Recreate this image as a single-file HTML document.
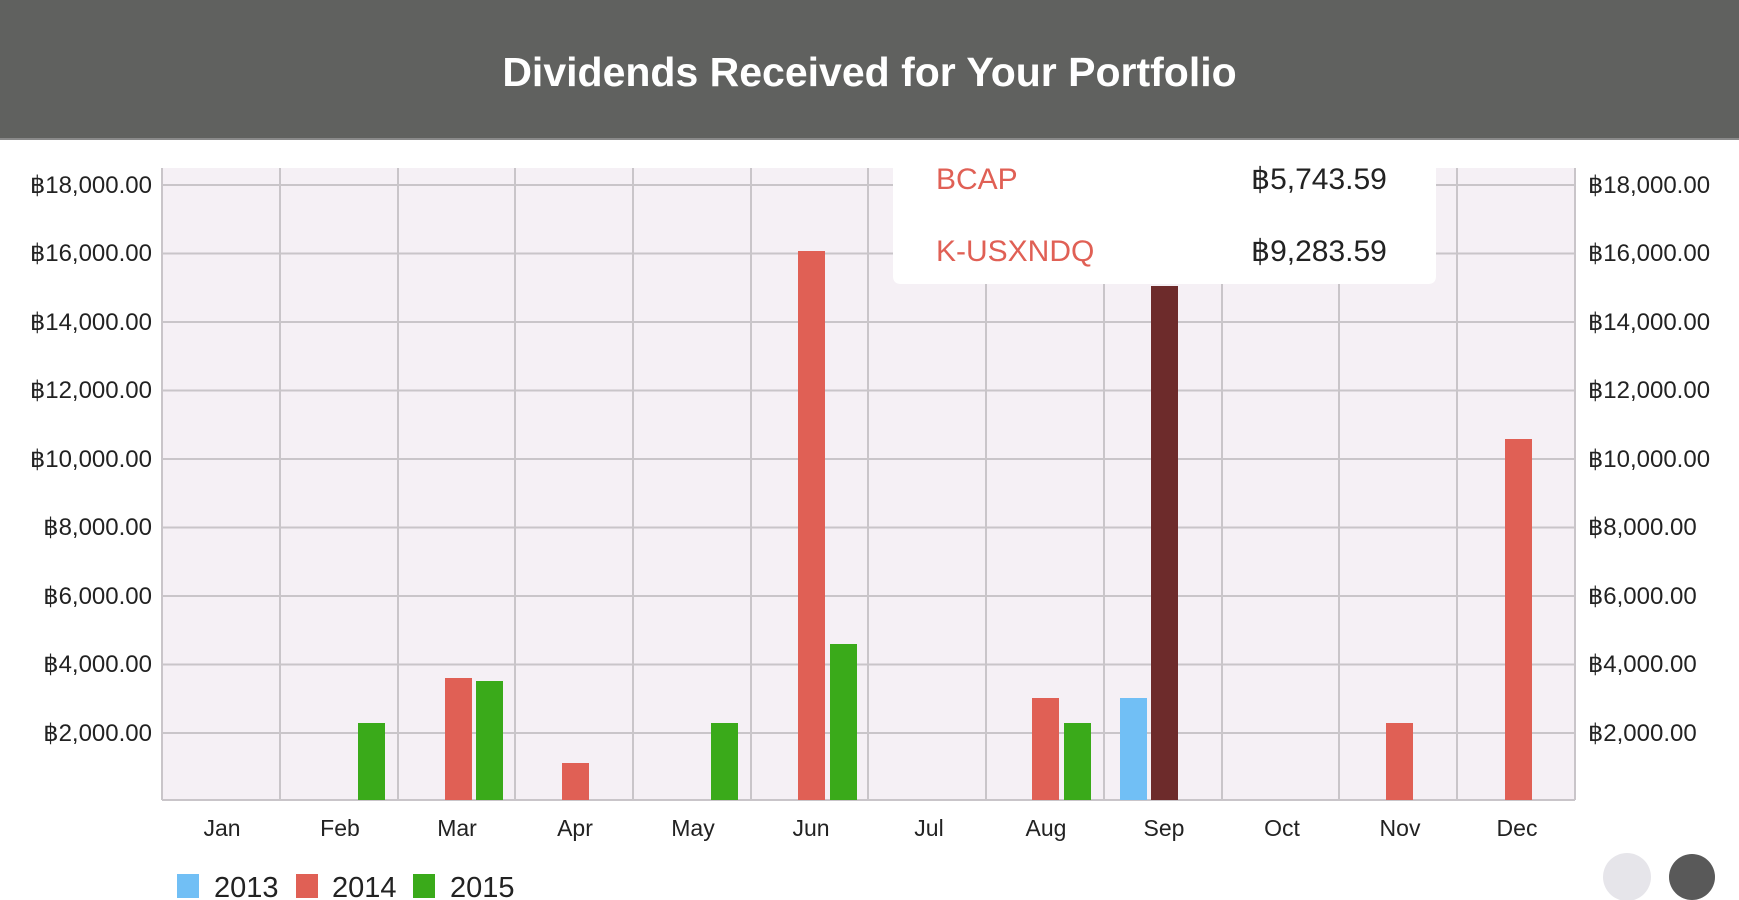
<!DOCTYPE html>
<html><head><meta charset="utf-8"><style>
body{margin:0;width:1739px;height:900px;background:#fff;overflow:hidden;font-family:"Liberation Sans",sans-serif;position:relative}
.hdr{position:absolute;left:0;top:0;width:1739px;height:138px;background:#60615f;border-bottom:2px solid #8a8a8a;color:#fff;font-weight:bold;font-size:41px;text-align:center;line-height:144px}
</style></head><body>
<div class="hdr">Dividends Received for Your Portfolio</div>
<svg width="1739" height="900" style="position:absolute;left:0;top:0">
<rect x="162" y="168" width="1413" height="632" fill="#f5f0f5"/>
<g stroke="#c9c5c9" stroke-width="2">
<line x1="162" y1="185" x2="1575" y2="185"/><line x1="162" y1="253.5" x2="1575" y2="253.5"/><line x1="162" y1="322" x2="1575" y2="322"/><line x1="162" y1="390.5" x2="1575" y2="390.5"/><line x1="162" y1="459" x2="1575" y2="459"/><line x1="162" y1="527.5" x2="1575" y2="527.5"/><line x1="162" y1="596" x2="1575" y2="596"/><line x1="162" y1="664.5" x2="1575" y2="664.5"/><line x1="162" y1="733" x2="1575" y2="733"/>
<line x1="162" y1="168" x2="162" y2="800"/><line x1="280" y1="168" x2="280" y2="800"/><line x1="398" y1="168" x2="398" y2="800"/><line x1="515" y1="168" x2="515" y2="800"/><line x1="633" y1="168" x2="633" y2="800"/><line x1="751" y1="168" x2="751" y2="800"/><line x1="868" y1="168" x2="868" y2="800"/><line x1="986" y1="168" x2="986" y2="800"/><line x1="1104" y1="168" x2="1104" y2="800"/><line x1="1222" y1="168" x2="1222" y2="800"/><line x1="1339" y1="168" x2="1339" y2="800"/><line x1="1457" y1="168" x2="1457" y2="800"/><line x1="1575" y1="168" x2="1575" y2="800"/>
<line x1="162" y1="800" x2="1575" y2="800"/>
</g>
<g>
<rect x="358" y="723" width="27" height="77" fill="#3aaa1a"/>
<rect x="445" y="678" width="27" height="122" fill="#e06055"/>
<rect x="476" y="681" width="27" height="119" fill="#3aaa1a"/>
<rect x="562" y="763" width="27" height="37" fill="#e06055"/>
<rect x="711" y="723" width="27" height="77" fill="#3aaa1a"/>
<rect x="798" y="251" width="27" height="549" fill="#e06055"/>
<rect x="830" y="644" width="27" height="156" fill="#3aaa1a"/>
<rect x="1032" y="698" width="27" height="102" fill="#e06055"/>
<rect x="1064" y="723" width="27" height="77" fill="#3aaa1a"/>
<rect x="1120" y="698" width="27" height="102" fill="#71bff5"/>
<rect x="1151" y="286" width="27" height="514" fill="#6d2b2b"/>
<rect x="1386" y="723" width="27" height="77" fill="#e06055"/>
<rect x="1505" y="439" width="27" height="361" fill="#e06055"/>
</g>
<path d="M893 150 H1436 V276 Q1436 284 1428 284 H901 Q893 284 893 276 Z" fill="#fff"/>
<g font-size="30" font-family="Liberation Sans,sans-serif">
<text x="936" y="189" fill="#e06055">BCAP</text><text x="1251" y="189" fill="#222">฿5,743.59</text>
<text x="936" y="261" fill="#e06055">K-USXNDQ</text><text x="1251" y="261" fill="#222">฿9,283.59</text>
</g>
<g font-size="24" fill="#222" font-family="Liberation Sans,sans-serif" text-anchor="end">
<text x="152" y="193">฿18,000.00</text><text x="152" y="261">฿16,000.00</text><text x="152" y="330">฿14,000.00</text><text x="152" y="398">฿12,000.00</text><text x="152" y="467">฿10,000.00</text><text x="152" y="535">฿8,000.00</text><text x="152" y="604">฿6,000.00</text><text x="152" y="672">฿4,000.00</text><text x="152" y="741">฿2,000.00</text>
</g>
<g font-size="24" fill="#222" font-family="Liberation Sans,sans-serif">
<text x="1588" y="193">฿18,000.00</text><text x="1588" y="261">฿16,000.00</text><text x="1588" y="330">฿14,000.00</text><text x="1588" y="398">฿12,000.00</text><text x="1588" y="467">฿10,000.00</text><text x="1588" y="535">฿8,000.00</text><text x="1588" y="604">฿6,000.00</text><text x="1588" y="672">฿4,000.00</text><text x="1588" y="741">฿2,000.00</text>
</g>
<g font-size="23" fill="#222" font-family="Liberation Sans,sans-serif" text-anchor="middle">
<text x="222" y="836">Jan</text><text x="340" y="836">Feb</text><text x="457" y="836">Mar</text><text x="575" y="836">Apr</text><text x="693" y="836">May</text><text x="811" y="836">Jun</text><text x="929" y="836">Jul</text><text x="1046" y="836">Aug</text><text x="1164" y="836">Sep</text><text x="1282" y="836">Oct</text><text x="1400" y="836">Nov</text><text x="1517" y="836">Dec</text>
</g>
<rect x="177" y="874" width="22" height="24" fill="#71bff5"/><text x="214" y="897" font-size="29" fill="#222">2013</text>
<rect x="296" y="874" width="22" height="24" fill="#e06055"/><text x="332" y="897" font-size="29" fill="#222">2014</text>
<rect x="413" y="874" width="22" height="24" fill="#3aaa1a"/><text x="450" y="897" font-size="29" fill="#222">2015</text>
<circle cx="1627" cy="877" r="24" fill="#e6e5ea"/>
<circle cx="1692" cy="877" r="23" fill="#595959"/>
</svg>
</body></html>
